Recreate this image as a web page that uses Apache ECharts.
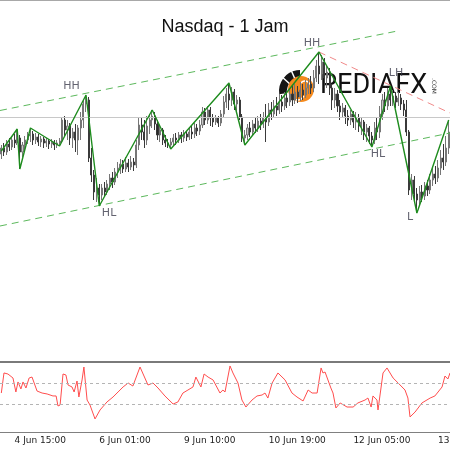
<!DOCTYPE html>
<html>
<head>
<meta charset="utf-8">
<script src="https://cdn.jsdelivr.net/npm/echarts@6/dist/echarts.min.js"></script>
<style>
    html, body { margin: 0; padding: 0; background: #fff; }
    #chart { width: 450px; height: 450px; }
</style>
</head>
<body>
<div id="chart"></div>
<script>

// hourly candles: [open, close, low, high]
const candles = [
    [14646, 14652, 14641, 14655], [14652, 14648, 14644, 14657], [14648, 14656, 14645, 14660], [14656, 14653, 14649, 14662],
    [14653, 14660, 14650, 14664], [14660, 14657, 14652, 14666], [14657, 14662, 14655, 14671], [14662, 14648, 14631, 14665],
    [14648, 14655, 14643, 14658], [14655, 14660, 14650, 14664], [14660, 14664, 14656, 14668], [14664, 14666, 14658, 14672],
    [14666, 14660, 14655, 14669], [14660, 14663, 14656, 14667], [14663, 14658, 14654, 14666], [14658, 14661, 14653, 14664],
    [14661, 14657, 14652, 14663], [14657, 14659, 14653, 14662], [14659, 14656, 14651, 14661], [14656, 14658, 14652, 14661],
    [14658, 14655, 14650, 14660], [14655, 14657, 14652, 14660], [14657, 14659, 14654, 14662], [14659, 14680, 14657, 14683],
    [14680, 14670, 14664, 14684], [14670, 14674, 14660, 14680], [14674, 14662, 14655, 14677], [14662, 14668, 14652, 14672],
    [14668, 14660, 14648, 14676], [14660, 14672, 14645, 14675], [14672, 14680, 14660, 14688], [14680, 14696, 14672, 14700],
    [14696, 14700, 14688, 14705], [14700, 14642, 14638, 14703], [14642, 14625, 14618, 14652], [14625, 14608, 14600, 14630],
    [14608, 14612, 14598, 14622], [14612, 14605, 14594, 14616], [14605, 14612, 14600, 14616], [14612, 14608, 14603, 14618],
    [14608, 14616, 14605, 14620], [14616, 14622, 14610, 14626], [14622, 14618, 14612, 14628], [14618, 14628, 14615, 14632],
    [14628, 14632, 14622, 14638], [14632, 14636, 14626, 14641], [14636, 14631, 14627, 14640], [14631, 14637, 14628, 14643],
    [14637, 14633, 14628, 14641], [14633, 14638, 14630, 14644], [14638, 14635, 14629, 14642], [14635, 14655, 14632, 14660],
    [14655, 14675, 14650, 14682], [14675, 14668, 14660, 14683], [14668, 14660, 14652, 14680], [14660, 14674, 14655, 14684],
    [14674, 14680, 14666, 14686], [14680, 14684, 14672, 14690], [14684, 14676, 14670, 14688], [14676, 14665, 14660, 14680],
    [14665, 14670, 14658, 14674], [14670, 14660, 14655, 14672], [14660, 14657, 14653, 14665], [14657, 14655, 14652, 14661],
    [14655, 14658, 14651, 14662], [14658, 14662, 14654, 14666], [14662, 14660, 14655, 14667], [14660, 14665, 14657, 14668],
    [14665, 14662, 14657, 14668], [14662, 14666, 14658, 14670], [14666, 14663, 14659, 14669], [14663, 14668, 14660, 14672],
    [14668, 14666, 14661, 14674], [14666, 14672, 14662, 14677], [14672, 14669, 14664, 14676], [14669, 14675, 14665, 14680],
    [14675, 14688, 14672, 14693], [14688, 14680, 14675, 14692], [14680, 14690, 14676, 14694], [14690, 14682, 14674, 14693],
    [14682, 14678, 14673, 14686], [14678, 14682, 14675, 14685], [14682, 14677, 14673, 14684], [14677, 14686, 14674, 14690],
    [14686, 14698, 14682, 14704], [14698, 14706, 14692, 14712], [14706, 14700, 14690, 14717], [14700, 14708, 14694, 14713],
    [14708, 14696, 14690, 14711], [14696, 14700, 14688, 14705], [14700, 14683, 14680, 14703], [14683, 14662, 14658, 14686],
    [14662, 14665, 14655, 14670], [14665, 14672, 14660, 14676], [14672, 14668, 14663, 14678], [14668, 14676, 14664, 14680],
    [14676, 14672, 14667, 14682], [14672, 14679, 14668, 14684], [14679, 14676, 14670, 14686], [14676, 14682, 14672, 14688],
    [14682, 14678, 14658, 14696], [14678, 14690, 14674, 14697], [14690, 14686, 14680, 14698], [14686, 14694, 14682, 14700],
    [14694, 14690, 14684, 14703], [14690, 14698, 14686, 14706], [14698, 14694, 14688, 14705], [14694, 14702, 14690, 14708],
    [14702, 14698, 14692, 14710], [14698, 14706, 14694, 14712], [14706, 14700, 14694, 14714], [14700, 14708, 14696, 14716],
    [14708, 14703, 14697, 14714], [14703, 14710, 14699, 14718], [14710, 14705, 14700, 14716], [14705, 14712, 14702, 14720],
    [14712, 14716, 14706, 14722], [14716, 14712, 14706, 14724], [14712, 14722, 14708, 14730], [14722, 14734, 14718, 14740],
    [14734, 14726, 14716, 14748], [14726, 14738, 14720, 14745], [14738, 14722, 14715, 14742], [14722, 14728, 14712, 14735],
    [14728, 14712, 14705, 14732], [14712, 14700, 14690, 14716], [14700, 14706, 14692, 14712], [14706, 14694, 14688, 14710],
    [14694, 14688, 14680, 14700], [14688, 14692, 14682, 14697], [14692, 14684, 14676, 14695], [14684, 14680, 14674, 14690],
    [14680, 14686, 14675, 14690], [14686, 14678, 14672, 14689], [14678, 14682, 14670, 14688], [14682, 14674, 14668, 14686],
    [14674, 14678, 14665, 14682], [14678, 14668, 14660, 14680], [14668, 14672, 14658, 14676], [14672, 14664, 14656, 14674],
    [14664, 14660, 14653, 14668], [14660, 14672, 14656, 14678], [14672, 14668, 14660, 14682], [14668, 14686, 14662, 14694],
    [14686, 14700, 14680, 14706], [14700, 14694, 14688, 14708], [14694, 14706, 14690, 14712], [14706, 14700, 14694, 14714],
    [14700, 14704, 14694, 14710], [14704, 14698, 14692, 14708], [14698, 14702, 14694, 14708], [14702, 14696, 14690, 14706],
    [14696, 14690, 14684, 14700], [14690, 14668, 14664, 14700], [14668, 14610, 14605, 14670], [14610, 14620, 14600, 14626],
    [14620, 14606, 14598, 14624], [14606, 14600, 14587, 14612], [14600, 14608, 14594, 14614], [14608, 14604, 14598, 14615],
    [14604, 14614, 14600, 14618], [14614, 14610, 14604, 14620], [14610, 14620, 14606, 14626], [14620, 14626, 14614, 14632],
    [14626, 14622, 14616, 14634], [14622, 14632, 14618, 14640], [14632, 14642, 14625, 14650], [14642, 14638, 14630, 14656],
    [14638, 14652, 14634, 14664], [14652, 14668, 14646, 14680]
];

// zigzag swing points (bar index, price)
const zigzagBars = [0, 6, 7, 11, 22, 32, 37, 57, 64, 86, 92, 120, 140, 147, 157, 169];
const zigzagPrices = [14649, 14671, 14631, 14672, 14654, 14705, 14594, 14690, 14651, 14717, 14655, 14748, 14653, 14714, 14587, 14680];

// swing labels
const pivotNames = ['HH', 'HL', 'HH', 'HL', 'LH', 'L'];
const pivotBars = [26.5, 40.7, 117.4, 142.3, 149.1, 154.4];
const pivotPrices = [14713.5, 14587, 14757, 14646, 14727, 14583];

// trend lines: [bar, price] end points
const upperChannel = [[-0.5, 14689.5], [150.6, 14769.5]];
const lowerChannel = [[-0.5, 14574], [169.5, 14667]];
const resistanceLine = [[120, 14748], [169.5, 14687]];
const levelPrice = 14683;

// oscillator
const oscBars = [0, 1, 2.5, 4.4, 5.5, 6.3, 7.4, 8.2, 9.3, 10.5, 11.6, 13.5, 15.4, 17.3, 19.5, 20.7, 21.4, 22.2, 23.3, 24.4,
    25.2, 26.7, 27.5, 28.6, 29.3, 30.5, 31.2, 32.4, 33.5, 35.4, 37.3, 39.9, 42.2, 44.1, 46, 47.9, 49.7, 52.4, 55.4, 57.3,
    59.2, 61.8, 64.9, 66.7, 68.6, 70.5, 72.4, 73.5, 75.4, 76.6, 78.1, 80, 82.6, 83.7, 84.5, 86.4, 87.5, 89.4, 90.9, 92.4,
    94.7, 96.6, 98.5, 99.6, 100.7, 102.3, 104.5, 107.2, 109.8, 111.7, 114, 115.9, 117.4, 119.3, 120.8, 121.5, 122.3, 124.5, 125.3, 126.4,
    128, 128.7, 130.6, 132.9, 134.7, 137.4, 138.5, 139.7, 140.4, 141.9, 142.3, 144.2, 145.7, 148, 149.9, 152.5, 153.6, 154.4, 156.3, 158.9,
    162, 163.8, 166.5, 167.6, 168.7, 169.5];
const oscValues = [50.3, 69.5, 68.5, 64.7, 51.3, 60.9, 54.2, 60.9, 55.1, 64.7, 65.6, 52.2, 50.3, 49.4, 47.5, 47.5, 37.9, 38.8, 68.5, 67.6,
    58.0, 56.1, 51.3, 61.8, 46.5, 62.8, 75.2, 43.6, 38.8, 25.5, 34.1, 41.7, 46.5, 51.3, 56.1, 59.9, 57.0, 75.2, 58.0, 59.9,
    55.1, 47.5, 39.8, 41.7, 50.3, 53.2, 56.1, 65.6, 56.1, 68.5, 65.6, 62.8, 50.3, 53.2, 51.3, 76.2, 69.5, 59.9, 43.6, 36.9,
    43.6, 47.5, 48.4, 50.3, 45.5, 59.9, 69.5, 62.8, 50.3, 46.5, 42.7, 53.2, 50.3, 50.3, 74.3, 69.5, 70.4, 55.1, 50.3, 36.0,
    40.8, 40.8, 36.9, 36.9, 40.8, 43.6, 45.5, 36.9, 47.5, 43.6, 34.1, 69.5, 74.3, 64.7, 59.9, 53.2, 45.5, 27.4, 32.1, 40.8,
    45.5, 47.5, 56.1, 66.6, 63.7, 69.5];
const oscLevels = [60, 40];

// time axis labels
const tickBars = [5, 37, 69, 101, 133, 165];
const tickLabels = ['4 Jun 15:00', '6 Jun 01:00', '9 Jun 10:00', '10 Jun 19:00', '12 Jun 05:00', '13 Jun 15:00'];

const categories = candles.map((c, i) => String(i));
const zip = (xs, ys) => xs.map((x, i) => [x, ys[i]]);
const isTick = (index) => tickBars.indexOf(index) >= 0;

const chart = echarts.init(document.getElementById('chart'));

chart.setOption({
    backgroundColor: '#ffffff',
    animation: false,
    title: {
        text: 'Nasdaq - 1 Jam',
        left: 'center',
        top: 13,
        textStyle: {
            fontFamily: "'Comic Sans MS', 'Liberation Sans', sans-serif",
            fontSize: 18,
            fontWeight: 'normal',
            color: '#111',
        },
    },
    grid: [
        { left: 0, right: 0, top: 0, height: 360, containLabel: false, outerBoundsMode: 'none' },
        { left: 0, right: 0, top: 362, height: 70, containLabel: false, outerBoundsMode: 'none' },
    ],
    xAxis: [
        { type: 'category', gridIndex: 0, data: categories, show: false },
        {
            type: 'category',
            gridIndex: 1,
            data: categories,
            axisLine: { lineStyle: { color: '#808080' } },
            axisTick: { interval: isTick, alignWithLabel: true, length: 4, lineStyle: { color: '#808080' } },
            axisLabel: {
                interval: isTick,
                formatter: (value, index) => tickLabels[tickBars.indexOf(index)],
                align: 'left',
                margin: 4,
                hideOverlap: false,
                fontFamily: "'DejaVu Sans', sans-serif",
                fontSize: 9,
                color: '#222',
            },
        },
        { type: 'value', gridIndex: 1, min: -0.5, max: 169.5, show: false },
        { type: 'value', gridIndex: 0, min: -0.5, max: 169.5, show: false },
    ],
    yAxis: [
        { type: 'value', gridIndex: 0, min: 14440, max: 14800, show: false },
        { type: 'value', gridIndex: 1, min: 13, max: 80, show: false },
    ],
    graphic: [
        { type: 'line', shape: { x1: 0, y1: 0.5, x2: 450, y2: 0.5 }, style: { stroke: '#a8a8a8', lineWidth: 1 }, z: 50 },
        { type: 'rect', shape: { x: 0, y: 361, width: 450, height: 2 }, style: { fill: '#7a7a7a' }, z: 50 },
        // watermark logo
        {
            type: 'group',
            z: 100,
            children: [
                { type: 'sector', shape: { cx: 300, cy: 91, r0: 13, r: 21, startAngle: Math.PI * 0.95, endAngle: Math.PI * 1.5 }, style: { fill: '#151515' } },
                { type: 'line', shape: { x1: 281, y1: 76, x2: 291, y2: 85 }, style: { stroke: '#fff', lineWidth: 1.5 } },
                { type: 'line', shape: { x1: 291, y1: 70, x2: 295, y2: 79 }, style: { stroke: '#fff', lineWidth: 1.5 } },
                { type: 'circle', shape: { cx: 301, cy: 89, r: 13 }, style: { fill: '#f48a1e' } },
                { type: 'arc', shape: { cx: 298, cy: 94, r: 6, startAngle: Math.PI * 0.1, endAngle: Math.PI * 0.9 }, style: { stroke: '#fff', lineWidth: 1.5, fill: 'none' } },
                { type: 'arc', shape: { cx: 305, cy: 86, r: 5, startAngle: Math.PI * 1.2, endAngle: Math.PI * 1.9 }, style: { stroke: '#fff', lineWidth: 1.5, fill: 'none' } },
                { type: 'text', style: { text: 'PEDIAFX', x: 320, y: 86, fill: '#111', font: '27px Roboto, sans-serif', verticalAlign: 'middle' } },
                { type: 'text', rotation: -Math.PI / 2, x: 437, y: 78, style: { text: '.COM', fill: '#333', font: '6px "DejaVu Sans", sans-serif' } },
            ],
        },
    ],
    series: [
        {
            type: 'candlestick',
            xAxisIndex: 0,
            yAxisIndex: 0,
            data: candles.map((c) => [c[0], c[1], c[2], c[3]]),
            barWidth: '60%',
            itemStyle: {
                color: '#c8c8c8',
                borderColor: '#767676',
                color0: '#2a2a2a',
                borderColor0: '#3a3a3a',
                borderWidth: 1,
            },
            markLine: {
                silent: true,
                symbol: 'none',
                label: { show: false },
                lineStyle: { color: '#c8c8c8', type: 'solid', width: 1 },
                data: [{ yAxis: levelPrice }],
            },
        },
        {
            type: 'line',
            xAxisIndex: 3,
            yAxisIndex: 0,
            data: upperChannel,
            symbol: 'none',
            lineStyle: { color: '#5cb85c', width: 1, type: [7, 5] },
        },
        {
            type: 'line',
            xAxisIndex: 3,
            yAxisIndex: 0,
            data: lowerChannel,
            symbol: 'none',
            lineStyle: { color: '#5cb85c', width: 1, type: [7, 5] },
        },
        {
            type: 'line',
            xAxisIndex: 3,
            yAxisIndex: 0,
            data: resistanceLine,
            symbol: 'none',
            lineStyle: { color: '#f08a8a', width: 1, type: [7, 5] },
        },
        {
            type: 'line',
            xAxisIndex: 3,
            yAxisIndex: 0,
            data: zip(zigzagBars, zigzagPrices),
            symbol: 'none',
            lineStyle: { color: '#1e8c1e', width: 1.4 },
            z: 5,
        },
        {
            type: 'scatter',
            xAxisIndex: 3,
            yAxisIndex: 0,
            data: pivotNames.map((name, i) => ({ name, value: [pivotBars[i], pivotPrices[i]] })),
            symbolSize: 1,
            itemStyle: { color: 'rgba(0,0,0,0)' },
            label: {
                show: true,
                position: 'inside',
                formatter: '{b}',
                fontFamily: "'DejaVu Sans', sans-serif",
                fontSize: 11,
                color: '#3c3c4c',
            },
            z: 6,
        },
        {
            type: 'line',
            xAxisIndex: 2,
            yAxisIndex: 1,
            data: zip(oscBars, oscValues),
            symbol: 'none',
            lineStyle: { color: '#ff4d4d', width: 1 },
            markLine: {
                silent: true,
                symbol: 'none',
                label: { show: false },
                lineStyle: { color: '#b4b4b4', type: [3, 3], width: 1 },
                data: oscLevels.map((v) => ({ yAxis: v })),
            },
        },
    ],
});

</script>
</body>
</html>
